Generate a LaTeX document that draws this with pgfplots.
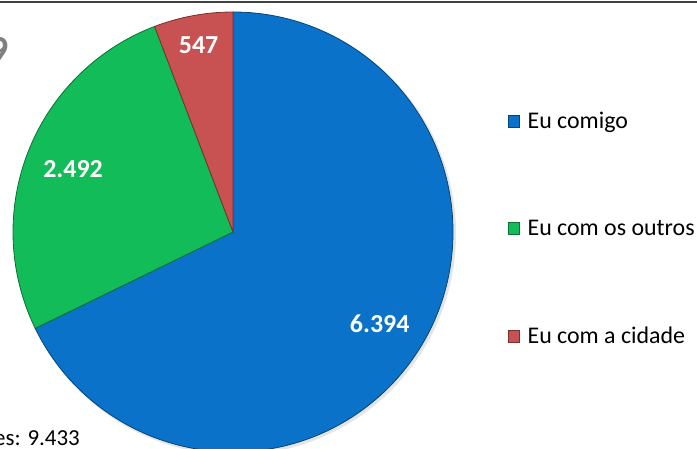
\documentclass[border=0pt]{standalone}
\usepackage{pgfplots}
\pgfplotsset{compat=1.18}
\usepackage{pgfplotstable}
\usetikzlibrary{calc}
\usepackage{fontspec}
\setmainfont{Carlito}

\definecolor{cBlue}{RGB}{10,114,200}
\definecolor{cGreen}{RGB}{18,188,88}
\definecolor{cRed}{RGB}{200,82,82}

% slices, clockwise from 12 o'clock
\pgfplotstableread{
label value
comigo 6394
outros 2492
cidade 547
}\pietable

\begin{document}
\begin{tikzpicture}
\pgfplotstablegetelem{0}{value}\of\pietable \let\vA\pgfplotsretval
\pgfplotstablegetelem{1}{value}\of\pietable \let\vB\pgfplotsretval
\pgfplotstablegetelem{2}{value}\of\pietable \let\vC\pgfplotsretval
\pgfmathsetmacro\total{\vA+\vB+\vC}
\pgfmathsetmacro\aA{90-360*(\vA/\total)}
\pgfmathsetmacro\aB{\aA-360*(\vB/\total)}
\pgfmathsetmacro\mA{(90+\aA)/2}
\pgfmathsetmacro\mB{(\aA+\aB)/2}
\pgfmathsetmacro\mC{(\aB-270)/2}

\useasboundingbox (0,0) rectangle (697bp,449bp);
\clip (0,0) rectangle (697bp,449bp);
\begin{axis}[
    at={(0,0)}, anchor=south west,
    scale only axis,
    width=697bp, height=449bp,
    xmin=0, xmax=697, ymin=0, ymax=449,
    hide axis,
    clip=false,
    legend image code/.code={\filldraw[#1] (0bp,-6bp) rectangle (11bp,6bp); \path (17bp,0bp);},
    legend style={
        at={(axis cs:505,341)}, anchor=north west,
        draw=none, fill=none,
        font=\fontsize{24}{28}\selectfont,
        row sep=86bp,
        cells={anchor=west},
    },
  ]
  % soft shadow
  \fill[black!10] (axis cs:235,215) circle[radius=221bp];

  \filldraw[fill=cBlue, draw=cBlue!60!black, line width=0.8bp]
    (axis cs:233,217) -- ++(90:220bp) arc[start angle=90, end angle=\aA, radius=220bp] -- cycle;
  \filldraw[fill=cGreen, draw=cGreen!60!black, line width=0.8bp]
    (axis cs:233,217) -- ++(\aA:220bp) arc[start angle=\aA, end angle=\aB, radius=220bp] -- cycle;
  \filldraw[fill=cRed, draw=cRed!60!black, line width=0.8bp]
    (axis cs:233,217) -- ++(\aB:220bp) arc[start angle=\aB, end angle=-270, radius=220bp] -- cycle;

  \begin{scope}[every node/.style={text=white, font=\bfseries\fontsize{26}{30}\selectfont, inner sep=0pt}]
    \node at ($(axis cs:233,217)+(\mA:173bp)$) {6.394};
    \node at ($(axis cs:233,217)+(\mB:172bp)$) {2.492};
    \node at ($(axis cs:233,217)+(\mC:190bp)$) {547};
  \end{scope}

  \addlegendimage{fill=cBlue, draw=cBlue!60!black}
  \addlegendentry{Eu comigo}
  \addlegendimage{fill=cGreen, draw=cGreen!60!black}
  \addlegendentry{Eu com os outros}
  \addlegendimage{fill=cRed, draw=cRed!60!black}
  \addlegendentry{Eu com a cidade}

  \draw[black!75, line width=1.3bp] (axis cs:0,447) -- (axis cs:697,447);
  \node[anchor=east, inner sep=0pt, text=black!50, font=\bfseries\fontsize{40}{40}\selectfont] at (axis cs:9,399) {9};
  \node[anchor=base east, inner sep=0pt, font=\fontsize{23}{26}\selectfont] at (axis cs:80,4) {es: 9.433};
\end{axis}
\end{tikzpicture}
\end{document}
